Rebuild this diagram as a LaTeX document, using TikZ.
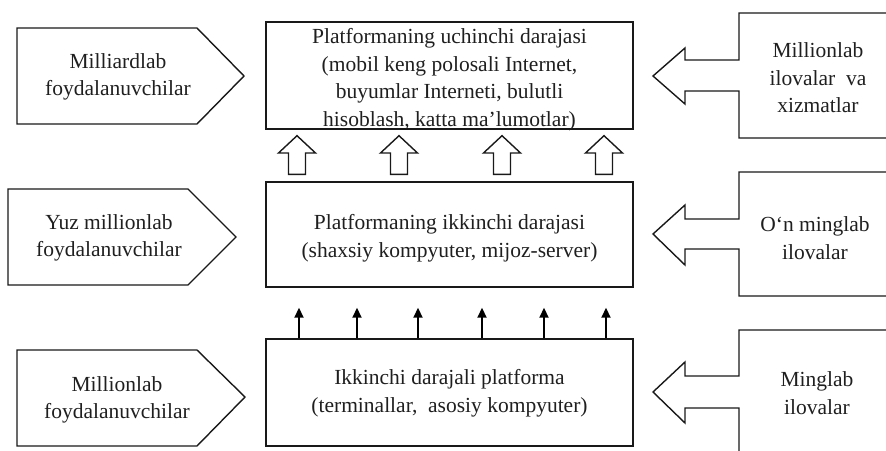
\documentclass[tikz,border=0pt]{standalone}
\usepackage{fontspec}
\setmainfont{Liberation Serif}
\usetikzlibrary{arrows.meta}
\begin{document}
\begin{tikzpicture}[x=1pt,y=-1pt,
  outline/.style={draw=black!90, line width=1.4pt, line join=miter},
  box/.style={outline, fill=white, minimum width=367pt, inner sep=0pt},
  txt/.style={align=center, font=\fontsize{21.5}{27.5}\selectfont, text=black!88, inner sep=0pt},
  sarrow/.style={draw=black, line width=1.8pt, -{Triangle[length=10pt,width=9pt]}}]
\useasboundingbox (0,0) rectangle (886,450);
\clip (0,0) rectangle (886,450);
% central platform boxes
\node[box, minimum height=107pt] (top) at (449.5,75.5) {};
\node[box, minimum height=105pt] (mid) at (449.5,234.5) {};
\node[box, minimum height=107pt] (bot) at (449.5,392.5) {};
\node[txt] (topt) at (449.5,79.5) {Platformaning uchinchi darajasi\\(mobil keng polosali Internet,\\buyumlar Interneti, bulutli\\hisoblash, katta ma’lumotlar)};
\node[txt] (midt) at (449.5,238) {Platformaning ikkinchi darajasi\\(shaxsiy kompyuter, mijoz-server)};
\node[txt] (bott) at (449.5,393) {Ikkinchi darajali platforma\\(terminallar,\ \ asosiy kompyuter)};
% hollow arrows between mid and top
\foreach \x in {297,399,502,604}
  \draw[outline] ([yshift=7pt]mid.north -| \x-8.5,0) -- (\x-8.5,153) -- (\x-18.5,153)
     -- ([yshift=-6pt]top.south -| \x,0) -- (\x+18.5,153) -- (\x+8.5,153)
     -- ([yshift=7pt]mid.north -| \x+8.5,0) -- cycle;
% small arrows between bot and mid
\foreach \x in {299,357,418,482,544,606}
  \draw[sarrow] (bot.north -| \x,0) -- ([yshift=-20pt]mid.south -| \x,0);
% left pentagons
\draw[outline] (17,28) -- (197,28) -- (244,76) -- (197,124) -- (17,124) -- cycle;
\node[txt] (l1) at (118,77) {Milliardlab\\foydalanuvchilar};
\draw[outline] (8,189) -- (188,189) -- (236,237) -- (188,285) -- (8,285) -- cycle;
\node[txt] (l2) at (109,238) {Yuz millionlab\\foydalanuvchilar};
\draw[outline] (17,350) -- (197,350) -- (245,397) -- (197,446) -- (17,446) -- cycle;
\node[txt] (l3) at (117,400) {Millionlab\\foydalanuvchilar};
% right box-arrows
\draw[outline] (900,13) -- (739,13) -- (739,60) -- (685,60) -- (685,48) -- (653,76)
  -- (685,104) -- (685,91) -- (739,91) -- (739,138) -- (900,138);
\node[txt] (r1) at (818,78) {Millionlab\\ilovalar\ \ va\\xizmatlar};
\draw[outline] (900,172) -- (739,172) -- (739,219) -- (685,219) -- (685,205) -- (653,234)
  -- (685,265) -- (685,249) -- (739,249) -- (739,296) -- (900,296);
\node[txt] (r2) at (815,238) {O‘n minglab\\ilovalar};
\draw[outline] (900,330) -- (739,330) -- (739,376) -- (685,376) -- (685,362) -- (653,392)
  -- (685,423) -- (685,408) -- (739,408) -- (739,470);
\node[txt] (r3) at (817,393) {Minglab\\ilovalar};
\end{tikzpicture}
\end{document}
